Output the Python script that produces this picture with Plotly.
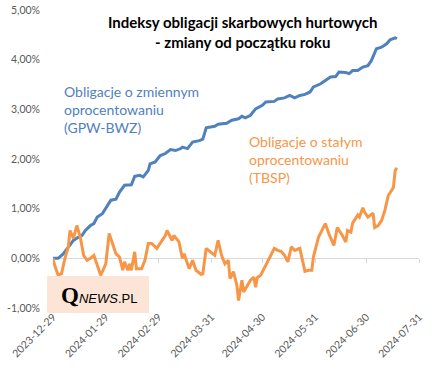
import plotly.graph_objects as go

# ---------------- data (in %) ----------------
bwz_dates = [
    "2023-12-29", "2024-01-01", "2024-01-04", "2024-01-07", "2024-01-10", "2024-01-13",
    "2024-01-15", "2024-01-17", "2024-01-20", "2024-01-22", "2024-01-24", "2024-01-27",
    "2024-01-29", "2024-02-01", "2024-02-04", "2024-02-06", "2024-02-09", "2024-02-13",
    "2024-02-15", "2024-02-18", "2024-02-20", "2024-02-23", "2024-02-24", "2024-02-27",
    "2024-03-01", "2024-03-04", "2024-03-07", "2024-03-10", "2024-03-13", "2024-03-14",
    "2024-03-17", "2024-03-20", "2024-03-24", "2024-03-26", "2024-03-28", "2024-04-02",
    "2024-04-04", "2024-04-09", "2024-04-12", "2024-04-16", "2024-04-18", "2024-04-20",
    "2024-04-23", "2024-04-26", "2024-04-30", "2024-05-02", "2024-05-07", "2024-05-09",
    "2024-05-13", "2024-05-16", "2024-05-19", "2024-05-22", "2024-05-25", "2024-05-28",
    "2024-05-30", "2024-06-03", "2024-06-06", "2024-06-09", "2024-06-12", "2024-06-14",
    "2024-06-18", "2024-06-20", "2024-06-22", "2024-06-25", "2024-06-28", "2024-07-01",
    "2024-07-03", "2024-07-06", "2024-07-09", "2024-07-12", "2024-07-14", "2024-07-17",
    "2024-07-18",
]
bwz_values = [
    0.00, 0.00, 0.09, 0.23, 0.36, 0.43,
    0.46, 0.56, 0.66, 0.70, 0.83, 0.90,
    1.00, 1.17, 1.19, 1.33, 1.47, 1.48,
    1.65, 1.67, 1.64, 1.77, 1.90, 1.94,
    2.07, 2.11, 2.19, 2.17, 2.21, 2.24,
    2.21, 2.34, 2.37, 2.40, 2.63, 2.66,
    2.70, 2.72, 2.78, 2.81, 2.86, 2.83,
    2.88, 3.01, 3.08, 3.15, 3.16, 3.21,
    3.23, 3.28, 3.23, 3.28, 3.30, 3.35,
    3.45, 3.51, 3.58, 3.65, 3.66, 3.75,
    3.74, 3.72, 3.78, 3.78, 3.85, 3.88,
    3.98, 4.22, 4.25, 4.32, 4.40, 4.44,
    4.42,
]

tbsp_dates = [
    "2023-12-29", "2023-12-30", "2024-01-01", "2024-01-03", "2024-01-05", "2024-01-07",
    "2024-01-08", "2024-01-10", "2024-01-12", "2024-01-14", "2024-01-16", "2024-01-18",
    "2024-01-20", "2024-01-22", "2024-01-23", "2024-01-26", "2024-01-27", "2024-01-29",
    "2024-01-31", "2024-02-02", "2024-02-04", "2024-02-06", "2024-02-08", "2024-02-09",
    "2024-02-11", "2024-02-12", "2024-02-13", "2024-02-15", "2024-02-16", "2024-02-19",
    "2024-02-21", "2024-02-23", "2024-02-25", "2024-02-28", "2024-03-01", "2024-03-04",
    "2024-03-05", "2024-03-08", "2024-03-09", "2024-03-12", "2024-03-14", "2024-03-15",
    "2024-03-18", "2024-03-20", "2024-03-22", "2024-03-25", "2024-03-26", "2024-03-28",
    "2024-04-02", "2024-04-04", "2024-04-06", "2024-04-08", "2024-04-10", "2024-04-11",
    "2024-04-13", "2024-04-15", "2024-04-16", "2024-04-18", "2024-04-19", "2024-04-23",
    "2024-04-25", "2024-04-26", "2024-04-27", "2024-04-29", "2024-05-02", "2024-05-07",
    "2024-05-09", "2024-05-11", "2024-05-13", "2024-05-15", "2024-05-17", "2024-05-19",
    "2024-05-22", "2024-05-25", "2024-05-27", "2024-05-29", "2024-05-30", "2024-06-02",
    "2024-06-06", "2024-06-08", "2024-06-11", "2024-06-13", "2024-06-16", "2024-06-18",
    "2024-06-19", "2024-06-21", "2024-06-22", "2024-06-25", "2024-06-26", "2024-06-28",
    "2024-06-29", "2024-07-01", "2024-07-04", "2024-07-05", "2024-07-07", "2024-07-09",
    "2024-07-11", "2024-07-13", "2024-07-15", "2024-07-16", "2024-07-17", "2024-07-18",
]
tbsp_values = [
    0.00, -0.14, -0.34, -0.31, 0.00, 0.23,
    0.56, 0.40, 0.66, 0.43, 0.06, -0.04,
    0.00, 0.06, -0.04, -0.34, -0.27, -0.11,
    0.50, 0.30, 0.09, 0.03, -0.24, -0.07,
    -0.24, -0.11, -0.24, 0.13, -0.21, -0.21,
    -0.04, 0.30, 0.30, 0.20, 0.30, 0.46,
    0.56, 0.36, 0.46, 0.33, 0.00, 0.09,
    -0.21, -0.04, -0.24, -0.32, -0.31, 0.20,
    0.06, 0.36, 0.06, -0.11, -0.04, -0.41,
    -0.27, -0.54, -0.85, -0.44, -0.68, -0.44,
    -0.38, -0.58, -0.39, -0.34, -0.14, 0.20,
    0.16, 0.14, 0.06, -0.07, 0.23, 0.16,
    0.20, -0.26, -0.24, -0.24, 0.03, 0.43,
    0.70, 0.50, 0.26, 0.62, 0.46, 0.33,
    0.56, 0.53, 0.71, 0.87, 0.83, 1.02,
    0.93, 0.83, 0.91, 0.62, 0.66, 0.76,
    0.97, 1.27, 1.37, 1.43, 1.77, 1.82,
]

x_tick_dates = ["2023-12-29", "2024-01-29", "2024-02-29", "2024-03-31",
                "2024-04-30", "2024-05-31", "2024-06-30", "2024-07-31"]
y_tick_values = [-1, 0, 1, 2, 3, 4, 5]
y_tick_labels = ["-1,00%", "0,00%", "1,00%", "2,00%", "3,00%", "4,00%", "5,00%"]

title_lines = ["Indeksy obligacji skarbowych hurtowych", "- zmiany od początku roku"]
bwz_label = ["Obligacje o zmiennym", "oprocentowaniu", "(GPW-BWZ)"]
tbsp_label = ["Obligacje o stałym", "oprocentowaniu", "(TBSP)"]

# ---------------- styles ----------------
BLUE = "#4F81BD"
ORANGE = "#F79646"
FONT = "Lato"
W, H = 441, 370
ML, MR, MT, MB = 53, 22, 10, 62
y_range = [-1, 5]


def px_x(px):
    return (px - ML) / (W - ML - MR)


def px_y(py):
    return (H - MB - py) / (H - MT - MB)


fig = go.Figure()
fig.add_trace(go.Scatter(x=bwz_dates, y=bwz_values, mode="lines",
                         line=dict(color=BLUE, width=3), showlegend=False,
                         hoverinfo="skip"))
fig.add_trace(go.Scatter(x=tbsp_dates, y=tbsp_values, mode="lines", xaxis="x2",
                         line=dict(color=ORANGE, width=3), showlegend=False,
                         hoverinfo="skip"))

zero_pos = (0 - y_range[0]) / (y_range[1] - y_range[0])

fig.update_layout(
    width=W, height=H,
    margin=dict(l=ML, r=MR, t=MT, b=MB, autoexpand=False),
    paper_bgcolor="white", plot_bgcolor="white",
    font=dict(family=FONT, color="#595959", size=10.5),
    xaxis=dict(type="date", range=[x_tick_dates[0], x_tick_dates[-1]],
               tickvals=x_tick_dates, ticktext=x_tick_dates, tickangle=-45,
               showgrid=False, zeroline=False, showline=False, ticks="",
               automargin=False,
               tickfont=dict(size=10.5, color="#595959", family=FONT)),
    xaxis2=dict(type="date", matches="x", overlaying="x", anchor="free",
                position=zero_pos, showticklabels=False, showgrid=False,
                zeroline=False, showline=True, linecolor="#D9D9D9", linewidth=1,
                ticks="outside", ticklen=4, tickcolor="#D9D9D9", automargin=False,
                tickvals=x_tick_dates, layer="below traces"),
    yaxis=dict(range=y_range, tickvals=y_tick_values, ticktext=y_tick_labels,
               showgrid=False, zeroline=False, showline=False, ticks="",
               automargin=False, ticklabelstandoff=12,
               tickfont=dict(size=10.5, color="#595959", family=FONT)),
)

annotations = [
    dict(text="<b>" + "<br>".join(title_lines) + "</b>", x=px_x(242), y=px_y(32),
         font=dict(size=15, color="black", family=FONT)),
    dict(text="<br>".join(bwz_label), x=px_x(62), y=px_y(109), xanchor="left",
         align="left", font=dict(size=14, color=BLUE, family=FONT)),
    dict(text="<br>".join(tbsp_label), x=px_x(247), y=px_y(159), xanchor="left",
         align="left", font=dict(size=14, color=ORANGE, family=FONT)),
    dict(text='<span style="font-family:Liberation Serif;font-size:23px"><b>Q</b></span>'
              '<i>NEWS</i>.PL',
         x=px_x(99), y=px_y(295), font=dict(size=13, color="black", family="Liberation Sans")),
]
for a in annotations:
    a.setdefault("xanchor", "center")
    a.setdefault("yanchor", "middle")
    a.update(xref="paper", yref="paper", showarrow=False)
fig.update_layout(annotations=annotations)

fig.add_shape(type="rect", xref="paper", yref="paper",
              x0=px_x(47), x1=px_x(149), y0=px_y(313), y1=px_y(276),
              fillcolor="#FCE4D6", line=dict(width=0), layer="above")

fig.write_html("out.html", config={"displayModeBar": False},
               post_script="document.body.style.margin='0';")
